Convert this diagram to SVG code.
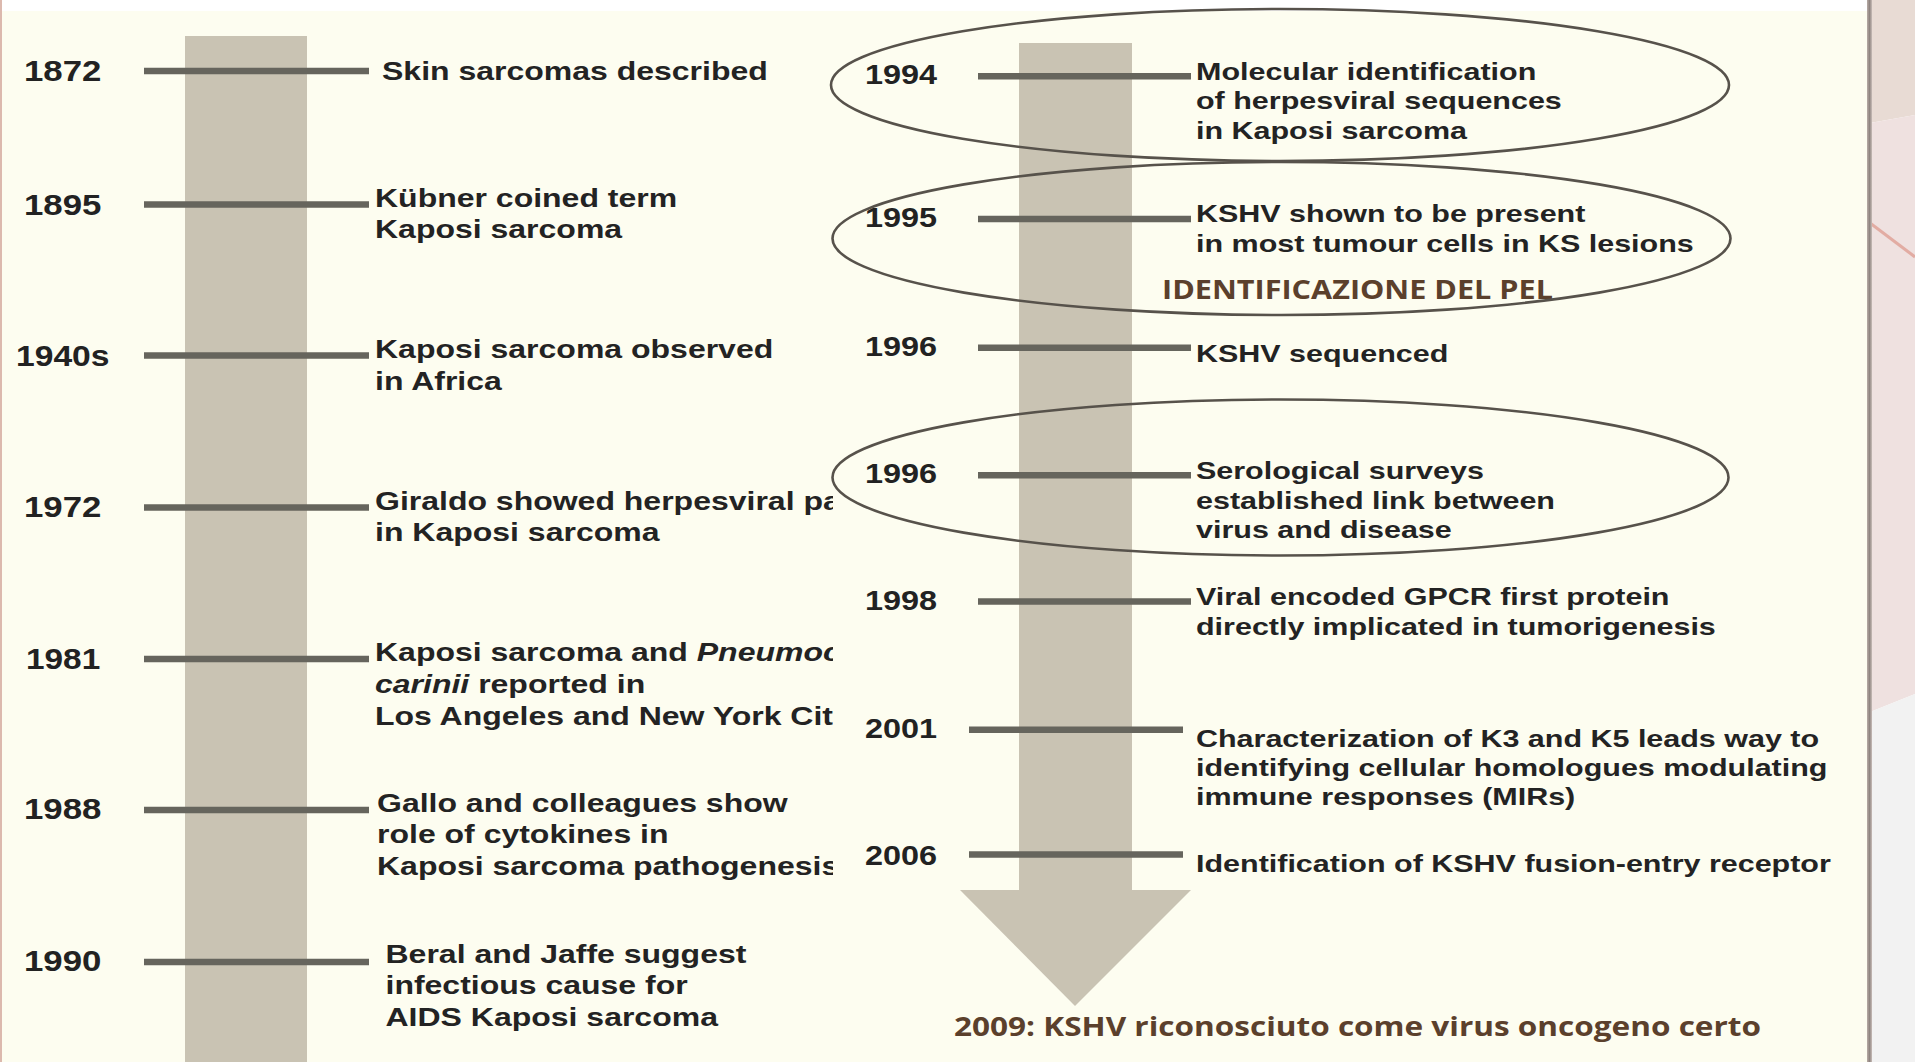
<svg xmlns="http://www.w3.org/2000/svg" width="1915" height="1062" viewBox="0 0 1915 1062">
<style>
.yr{font-family:"Liberation Sans",Arial,sans-serif;font-weight:700;font-size:29px;fill:#222}
.yr2{font-family:"Liberation Sans",Arial,sans-serif;font-weight:700;font-size:27px;fill:#222}
.tl{font-family:"Liberation Sans",Arial,sans-serif;font-weight:700;font-size:25px;fill:#232323}
.tr{font-family:"Liberation Sans",Arial,sans-serif;font-weight:700;font-size:24px;fill:#232323}
.it{font-style:italic}
.br{font-family:"Open Sans","Liberation Sans",sans-serif;font-weight:700;fill:#5b402c}
.tick{stroke:#66655d;stroke-width:6.5;fill:none}
.ell{fill:none;stroke:#57524b;stroke-width:2.6}
.bar{fill:#c9c3b3}
</style>
<defs>
<clipPath id="leftclip"><rect x="0" y="0" width="833" height="1062"/></clipPath>
<linearGradient id="shadow" x1="0" x2="1" y1="0" y2="0">
<stop offset="0" stop-color="#b8aca6"/><stop offset="0.5" stop-color="#8f8480"/><stop offset="1" stop-color="#c8bdb8"/>
</linearGradient>
</defs>
<!-- background -->
<rect x="0" y="0" width="1915" height="1062" fill="#ffffff"/>
<polygon points="1870,0 1915,0 1915,115 1870,123" fill="#e8dbd4"/>
<polygon points="1870,123 1915,115 1915,694 1870,712" fill="#efe1e0"/>
<polygon points="1870,712 1915,694 1915,1062 1870,1062" fill="#f2f2f2"/>
<line x1="1870" y1="223" x2="1915" y2="257" stroke="#e2aca3" stroke-width="3"/>
<rect x="2" y="11" width="1866" height="1051" fill="#fdfdf0"/>
<rect x="0" y="0" width="2" height="1062" fill="#dcb9ae"/>
<rect x="1867" y="0" width="5" height="1062" fill="url(#shadow)"/>

<!-- timeline bars -->
<g id="bars">
<rect class="bar" x="185" y="36" width="122" height="1026"/>
<rect class="bar" x="1019" y="43" width="113" height="847"/>
<polygon class="bar" points="960,890 1191,890 1075,1006"/>
</g>

<!-- tick connectors -->
<g id="connectors">
<line class="tick" x1="144" y1="71" x2="369" y2="71"/>
<line class="tick" x1="144" y1="204.5" x2="369" y2="204.5"/>
<line class="tick" x1="144" y1="355.5" x2="369" y2="355.5"/>
<line class="tick" x1="144" y1="507.5" x2="369" y2="507.5"/>
<line class="tick" x1="144" y1="659" x2="369" y2="659"/>
<line class="tick" x1="144" y1="810" x2="369" y2="810"/>
<line class="tick" x1="144" y1="962" x2="369" y2="962"/>
<line class="tick" x1="978" y1="76.3" x2="1191" y2="76.3"/>
<line class="tick" x1="978" y1="219" x2="1191" y2="219"/>
<line class="tick" x1="978" y1="347.8" x2="1191" y2="347.8"/>
<line class="tick" x1="978" y1="475.2" x2="1191" y2="475.2"/>
<line class="tick" x1="978" y1="601.6" x2="1191" y2="601.6"/>
<line class="tick" x1="969" y1="729.7" x2="1183" y2="729.7"/>
<line class="tick" x1="969" y1="854.6" x2="1183" y2="854.6"/>
</g>

<!-- left column -->
<g id="left-column" clip-path="url(#leftclip)">
<g id="n1872">
<text class="yr" transform="translate(24 80.5) scale(1.2 1)">1872</text>
<g transform="translate(382 0) scale(1.28 1)"><text class="tl" x="0" y="80">Skin sarcomas described</text></g>
</g>
<g id="n1895">
<text class="yr" transform="translate(24 214.5) scale(1.2 1)">1895</text>
<g transform="translate(375 0) scale(1.28 1)"><text class="tl" x="0" y="207">Kübner coined term</text><text class="tl" x="0" y="238">Kaposi sarcoma</text></g>
</g>
<g id="n1940s">
<text class="yr" transform="translate(16 365.5) scale(1.16 1)">1940s</text>
<g transform="translate(375 0) scale(1.28 1)"><text class="tl" x="0" y="358">Kaposi sarcoma observed</text><text class="tl" x="0" y="390">in Africa</text></g>
</g>
<g id="n1972">
<text class="yr" transform="translate(24 516.5) scale(1.2 1)">1972</text>
<g transform="translate(375 0) scale(1.28 1)"><text class="tl" x="0" y="510">Giraldo showed herpesviral pa</text><text class="tl" x="0" y="541.5">in Kaposi sarcoma</text></g>
</g>
<g id="n1981">
<text class="yr" transform="translate(26 668.5) scale(1.15 1)">1981</text>
<g transform="translate(375 0) scale(1.28 1)"><text class="tl" x="0" y="661.5">Kaposi sarcoma and <tspan class="it">Pneumoc</tspan></text><text class="tl" x="0" y="693"><tspan class="it">carinii</tspan> reported in</text><text class="tl" x="0" y="725">Los Angeles and New York Cit</text></g>
</g>
<g id="n1988">
<text class="yr" transform="translate(24 819) scale(1.2 1)">1988</text>
<g transform="translate(377 0) scale(1.28 1)"><text class="tl" x="0" y="812">Gallo and colleagues show</text><text class="tl" x="0" y="843.5">role of cytokines in</text><text class="tl" x="0" y="875">Kaposi sarcoma pathogenesis</text></g>
</g>
<g id="n1990">
<text class="yr" transform="translate(24 971) scale(1.2 1)">1990</text>
<g transform="translate(385.5 0) scale(1.28 1)"><text class="tl" x="0" y="963">Beral and Jaffe suggest</text><text class="tl" x="0" y="994.5">infectious cause for</text><text class="tl" x="0" y="1026">AIDS Kaposi sarcoma</text></g>
</g>
</g>

<!-- right column -->
<g id="n1994">
<text class="yr2" transform="translate(865 83.5) scale(1.2 1)">1994</text>
<g transform="translate(1196 0) scale(1.27 1)"><text class="tr" x="0" y="80">Molecular identification</text><text class="tr" x="0" y="109.5">of herpesviral sequences</text><text class="tr" x="0" y="139.5">in Kaposi sarcoma</text></g>
</g>
<g id="n1995">
<text class="yr2" transform="translate(865 227) scale(1.2 1)">1995</text>
<g transform="translate(1196 0) scale(1.27 1)"><text class="tr" x="0" y="222">KSHV shown to be present</text><text class="tr" x="0" y="252">in most tumour cells in KS lesions</text></g>
<text class="br" x="1162" y="299" font-size="26" textLength="391" lengthAdjust="spacingAndGlyphs">IDENTIFICAZIONE DEL PEL</text>
</g>
<g id="n1996a">
<text class="yr2" transform="translate(865 355.5) scale(1.2 1)">1996</text>
<g transform="translate(1196 0) scale(1.27 1)"><text class="tr" x="0" y="362">KSHV sequenced</text></g>
</g>
<g id="n1996b">
<text class="yr2" transform="translate(865 483) scale(1.2 1)">1996</text>
<g transform="translate(1196 0) scale(1.27 1)"><text class="tr" x="0" y="479.5">Serological surveys</text><text class="tr" x="0" y="509">established link between</text><text class="tr" x="0" y="538">virus and disease</text></g>
</g>
<g id="n1998">
<text class="yr2" transform="translate(865 610) scale(1.2 1)">1998</text>
<g transform="translate(1196 0) scale(1.27 1)"><text class="tr" x="0" y="605">Viral encoded GPCR first protein</text><text class="tr" x="0" y="635">directly implicated in tumorigenesis</text></g>
</g>
<g id="n2001">
<text class="yr2" transform="translate(865 738) scale(1.2 1)">2001</text>
<g transform="translate(1196 0) scale(1.27 1)"><text class="tr" x="0" y="747.5">Characterization of K3 and K5 leads way to</text><text class="tr" x="0" y="776.5">identifying cellular homologues modulating</text><text class="tr" x="0" y="805">immune responses (MIRs)</text></g>
</g>
<g id="n2006">
<text class="yr2" transform="translate(865 864.5) scale(1.2 1)">2006</text>
<g transform="translate(1196 0) scale(1.27 1)"><text class="tr" x="0" y="872">Identification of KSHV fusion-entry receptor</text></g>
</g>
<g id="n2009">
<text class="br" x="954" y="1036" font-size="27" textLength="807" lengthAdjust="spacingAndGlyphs">2009: KSHV riconosciuto come virus oncogeno certo</text>
</g>

<!-- highlight ellipses -->
<g id="highlights">
<ellipse class="ell" cx="1280" cy="85" rx="449" ry="76"/>
<ellipse class="ell" cx="1281.5" cy="238.5" rx="449" ry="76.5"/>
<ellipse class="ell" cx="1280.5" cy="477.5" rx="448" ry="78"/>
</g>
</svg>
